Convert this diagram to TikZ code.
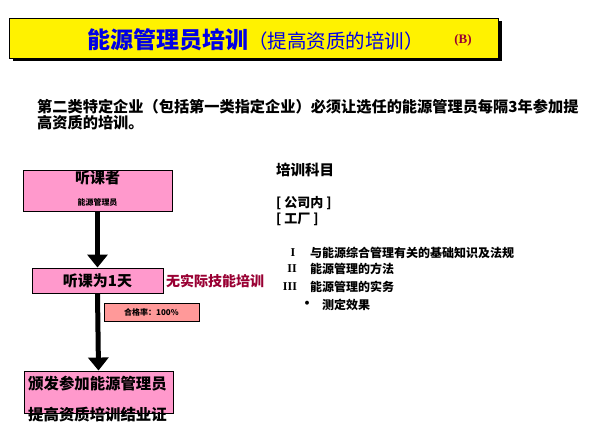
\documentclass[tikz,border=0pt]{standalone}
\usepackage{fontspec}
\newfontfamily\cjk{Noto Sans CJK SC}
\newfontfamily\serifb{Liberation Serif}
\usetikzlibrary{arrows.meta, positioning, shadows}
\definecolor{titleblue}{RGB}{0,0,230}
\definecolor{darkred}{RGB}{153,0,51}
\definecolor{boxpink}{RGB}{255,153,204}
\definecolor{ratepink}{RGB}{255,153,153}

\begin{document}
\begin{tikzpicture}[x=1pt, y=-1pt,
    pinkbox/.style={draw, fill=boxpink, line width=0.9pt, inner sep=0pt},
    bigarrow/.style={line width=5pt, -{Triangle[width=20pt, length=13pt]}},
    txt/.style={inner sep=0pt, font=\cjk\bfseries},
    roman/.style={inner sep=0pt, font=\serifb\bfseries\fontsize{12}{12}\selectfont}]
    \useasboundingbox (0,0) rectangle (595,444);

    % Thanh tiêu đề màu vàng có bóng đen
    \node[draw, fill=yellow, line width=0.9pt, minimum width=489pt, minimum height=40pt,
          drop shadow={shadow xshift=3pt, shadow yshift=-3pt, fill=black, opacity=1}]
          (title) at (254,38) {};
    \node[txt, anchor=west, text=titleblue] (titletext) at (87,40)
          {\fontsize{23}{23}\selectfont 能源管理员培训{\mdseries\fontsize{19.5}{20}\selectfont （提高资质的培训）}};
    \node[inner sep=0pt, text=darkred, font=\serifb\bfseries\fontsize{13}{13}\selectfont] (version) at (463,40) {(B)};

    % Đoạn mô tả
    \node[txt, anchor=north west, align=left, font=\cjk\bfseries\fontsize{15.2}{16.5}\selectfont] (intro) at (37,99)
          {第二类特定企业（包括第一类指定企业）必须让选任的能源管理员每隔3年参加提\\高资质的培训。};

    % Hộp "听课者"
    \node[pinkbox, minimum width=149pt, minimum height=41pt] (learner) at (97.5,190.5) {};
    \node[txt, font=\cjk\bfseries\fontsize{15}{15}\selectfont] (learnerhead) at (97.5,178) {听课者};
    \node[txt, font=\cjk\bfseries\fontsize{8}{8}\selectfont] (learnersub) at (97.5,202) {能源管理员};

    % Hộp "听课为1天" và ghi chú màu đỏ
    \node[pinkbox, minimum width=131pt, minimum height=25pt,
          font=\cjk\bfseries\fontsize{15}{15}\selectfont] (day) at (97.5,280.5) {听课为1天};
    \node[txt, anchor=west, text=darkred, font=\cjk\bfseries\fontsize{14}{14}\selectfont] (noskill) at (166,281) {无实际技能培训};
    \draw[bigarrow] (learner.south) -- (day.north); % Mũi tên từ "听课者" xuống "听课为1天"

    % Hộp nhỏ tỉ lệ đạt
    \node[draw, fill=ratepink, line width=0.9pt, inner sep=0pt, minimum width=95pt, minimum height=18pt,
          font=\cjk\bfseries\fontsize{8}{8}\selectfont] (rate) at (151.5,312) {合格率：100\%};

    % Hộp chứng chỉ
    \node[pinkbox, minimum width=149pt, minimum height=42pt] (cert) at (98.5,392) {};
    \node[txt, anchor=west, font=\cjk\bfseries\fontsize{15.4}{15.4}\selectfont] (certline1) at (28,384) {颁发参加能源管理员};
    \node[txt, anchor=west, font=\cjk\bfseries\fontsize{15.4}{15.4}\selectfont] (certline2) at (28,415) {提高资质培训结业证};
    \draw[bigarrow] (day.south) -- (cert.north); % Mũi tên từ "听课为1天" xuống hộp chứng chỉ

    % Cột bên phải: môn học
    \node[txt, anchor=west, font=\cjk\bfseries\fontsize{14.5}{14.5}\selectfont] (subjects) at (276,170) {培训科目};
    \node[txt, anchor=west, font=\cjk\bfseries\fontsize{13}{13}\selectfont] (company) at (276,203) {[ 公司内 ]};
    \node[txt, anchor=west, font=\cjk\bfseries\fontsize{13}{13}\selectfont] (factory) at (276,219) {[ 工厂 ]};

    \node[roman] (num1) at (293,253) {I};
    \node[txt, anchor=west, font=\cjk\bfseries\fontsize{12}{12}\selectfont] (item1) at (310,253) {与能源综合管理有关的基础知识及法规};
    \node[roman] (num2) at (292,269) {II};
    \node[txt, anchor=west, font=\cjk\bfseries\fontsize{12}{12}\selectfont] (item2) at (310,269) {能源管理的方法};
    \node[roman] (num3) at (290,287) {III};
    \node[txt, anchor=west, font=\cjk\bfseries\fontsize{12}{12}\selectfont] (item3) at (310,287) {能源管理的实务};
    \node[txt, font=\cjk\bfseries\fontsize{14}{14}\selectfont] (dot) at (307,305) {·};
    \node[txt, anchor=west, font=\cjk\bfseries\fontsize{12}{12}\selectfont] (item4) at (322,305) {测定效果};
\end{tikzpicture}
\end{document}
